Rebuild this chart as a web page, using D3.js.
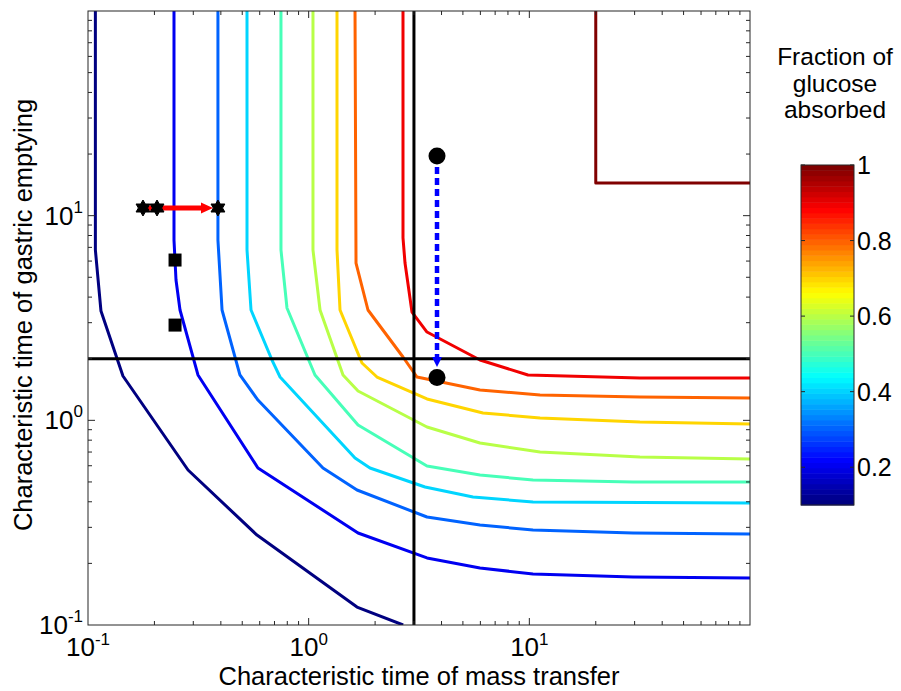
<!DOCTYPE html>
<html>
<head>
<meta charset="utf-8">
<script src="https://cdn.jsdelivr.net/npm/d3@7"></script>
<style>
body { margin: 0; background: #fff; }
text { font-family: "Liberation Sans", Arial, sans-serif; fill: #000; }
</style>
</head>
<body>
<svg id="main-svg" width="901" height="691"></svg>
<script>
// contour levels of the fraction of glucose absorbed
let levels = [0.1, 0.2, 0.3, 0.4, 0.5, 0.6, 0.7, 0.8, 0.9, 1.0];

// contour lines, points are [time of mass transfer, time of gastric emptying]
let line01 = [[0.108,100],[0.108,6.8],[0.1145,3.42],[0.144,1.647],[0.284,0.572],[0.583,0.275],[1.656,0.1224],[2.68,0.1]];
let line02 = [[0.2453,100],[0.2453,7.6],[0.2505,4.85],[0.2612,3.46],[0.315,1.666],[0.589,0.585],[1.674,0.2816],[3.437,0.2126],[5.976,0.19],[10.39,0.1775],[29.5,0.1716],[100,0.1697]];
let line03 = [[0.388,100],[0.388,7.6],[0.405,3.46],[0.488,1.666],[0.589,1.257],[1.161,0.585],[1.656,0.4566],[3.437,0.337],[5.976,0.308],[10.39,0.2912],[29.5,0.2816],[100,0.2783]];
let line04 = [[0.5255,100],[0.5255,6.8],[0.548,3.46],[0.682,1.971],[0.742,1.628],[1.622,0.655],[1.896,0.585],[3.367,0.4725],[5.555,0.422],[10.39,0.399],[100,0.3946]];
let line05 = [[0.749,100],[0.749,6.8],[0.7975,3.54],[1.068,1.666],[1.674,0.949],[3.437,0.598],[5.976,0.5406],[10.39,0.511],[29.5,0.4996],[100,0.4996]];
let line06 = [[1.046,100],[1.046,6.8],[1.126,3.46],[1.431,1.666],[1.674,1.391],[3.437,0.928],[5.976,0.775],[11.18,0.7003],[31.7,0.662],[100,0.647]];
let line07 = [[1.344,100],[1.344,6.8],[1.387,3.46],[1.744,1.906],[2.04,1.628],[3.437,1.272],[6.166,1.086],[11.18,1.027],[31.7,0.981],[100,0.96]];
let line08 = [[1.622,100],[1.639,5.87],[1.857,3.46],[2.676,2.039],[3.097,1.628],[5.976,1.407],[11.18,1.33],[31.7,1.3],[100,1.285]];
let line09 = [[2.676,100],[2.676,7.78],[2.733,5.87],[2.939,3.38],[3.437,2.7],[5.976,1.971],[9.86,1.666],[31.7,1.61],[100,1.61]];
let line10 = [[20,100],[20,14.44],[100,14.44]];
let contourLines = [line01, line02, line03, line04, line05, line06, line07, line08, line09, line10];

// reference lines
let refX = 3;
let refY = 2;

// markers
let stars = [[0.1775,10.9],[0.2055,10.9],[0.388,10.9]];
let squares = [[0.248,6.07],[0.248,2.92]];
let circles = [[3.816,19.56],[3.816,1.62]];
let redArrow = [[0.1775,10.9],[0.3685,10.9]];     // start, tip
let blueArrow = [[3.816,19.56],[3.816,1.822]];    // start, tip

// ticks
let xTicks = [0.1, 1, 10];
let yTicks = [0.1, 1, 10];
let xExp = ["-1", "0", "1"];
let yExp = ["-1", "0", "1"];
let cbDomain = [0.1, 1];
let cbTicks = [0.2, 0.4, 0.6, 0.8, 1];
let cbTickLabels = ["0.2", "0.4", "0.6", "0.8", "1"];
let cbTitle = ["Fraction of", "glucose", "absorbed"];

let svg = d3.select("#main-svg");

let pLeft = 88, pRight = 750, pTop = 11, pBottom = 625;

let x = d3.scaleLog().domain([0.1, 100]).range([pLeft, pRight]);
let y = d3.scaleLog().domain([0.1, 100]).range([pBottom, pTop]);

// matlab jet colormap
function jet(t) {
    let c = v => Math.max(0, Math.min(1, v));
    let r = c(Math.min(4 * t - 1.5, -4 * t + 4.5));
    let g = c(Math.min(4 * t - 0.5, -4 * t + 3.5));
    let b = c(Math.min(4 * t + 0.5, -4 * t + 2.5));
    return d3.rgb(r * 255, g * 255, b * 255).toString();
}
let norm = d3.scaleLinear().domain(cbDomain).range([0, 1]);

svg.append("clipPath").attr("id", "plot-clip")
    .append("rect").attr("x", pLeft).attr("y", pTop)
    .attr("width", pRight - pLeft).attr("height", pBottom - pTop);

let PlotLayer = svg.append("g").attr("clip-path", "url(#plot-clip)");
let AxisLayer = svg.append("g");

let line = d3.line().x(d => x(d[0])).y(d => y(d[1]));

// contour lines
PlotLayer.selectAll(".contour")
    .data(contourLines)
    .enter().append("path")
    .attr("class", "contour")
    .attr("d", line)
    .attr("fill", "none")
    .attr("stroke", (d, i) => jet(norm(levels[i])))
    .attr("stroke-width", 3)
    .attr("stroke-linejoin", "round");

// black reference lines
PlotLayer.append("line")
    .attr("x1", x(refX)).attr("x2", x(refX))
    .attr("y1", pTop).attr("y2", pBottom)
    .attr("stroke", "#000").attr("stroke-width", 3);
PlotLayer.append("line")
    .attr("x1", pLeft).attr("x2", pRight)
    .attr("y1", y(refY)).attr("y2", y(refY))
    .attr("stroke", "#000").attr("stroke-width", 3);

// blue dashed arrow
let bx = x(blueArrow[0][0]), by0 = y(blueArrow[0][1]), by1 = y(blueArrow[1][1]);
PlotLayer.append("line")
    .attr("x1", bx).attr("x2", bx)
    .attr("y1", by0).attr("y2", by1 - 8)
    .attr("stroke", "#0000ff").attr("stroke-width", 4.5)
    .attr("stroke-dasharray", "7,4");
PlotLayer.append("path")
    .attr("d", "M" + (bx - 5) + "," + (by1 - 10) + "L" + (bx + 5) + "," + (by1 - 10) + "L" + bx + "," + by1 + "Z")
    .attr("fill", "#0000ff");

// circles
PlotLayer.selectAll(".circ")
    .data(circles)
    .enter().append("circle")
    .attr("class", "circ")
    .attr("cx", d => x(d[0])).attr("cy", d => y(d[1]))
    .attr("r", 8.5)
    .attr("fill", "#000");

// squares
PlotLayer.selectAll(".sq")
    .data(squares)
    .enter().append("rect")
    .attr("class", "sq")
    .attr("x", d => x(d[0]) - 6.5).attr("y", d => y(d[1]) - 6.5)
    .attr("width", 13).attr("height", 13)
    .attr("fill", "#000");

// red arrow
let rx0 = x(redArrow[0][0]), rx1 = x(redArrow[1][0]), ry = y(redArrow[0][1]);
PlotLayer.append("line")
    .attr("x1", rx0).attr("x2", rx1 - 10)
    .attr("y1", ry).attr("y2", ry)
    .attr("stroke", "#ff0000").attr("stroke-width", 5);
PlotLayer.append("path")
    .attr("d", "M" + (rx1 - 12) + "," + (ry - 5.5) + "L" + rx1 + "," + ry + "L" + (rx1 - 12) + "," + (ry + 5.5) + "Z")
    .attr("fill", "#ff0000");

// hexagram stars
function hexagram(R) {
    let pts = [];
    let r = R / Math.sqrt(3);
    for (let k = 0; k < 12; k++) {
        let a = -Math.PI / 2 + k * Math.PI / 6;
        let rr = k % 2 == 0 ? R : r;
        pts.push([rr * Math.cos(a), rr * Math.sin(a)]);
    }
    return "M" + pts.map(p => p.join(",")).join("L") + "Z";
}
PlotLayer.selectAll(".star")
    .data(stars)
    .enter().append("path")
    .attr("class", "star")
    .attr("transform", d => "translate(" + x(d[0]) + "," + y(d[1]) + ")")
    .attr("d", hexagram(8))
    .attr("fill", "#000")
    .attr("stroke", "#000").attr("stroke-width", 1);

// axes box and ticks
let axisColor = "#262626";
AxisLayer.append("rect")
    .attr("x", pLeft).attr("y", pTop)
    .attr("width", pRight - pLeft).attr("height", pBottom - pTop)
    .attr("fill", "none").attr("stroke", axisColor).attr("stroke-width", 1);

function logTicks(decades) {
    let t = [];
    decades.forEach(function (d) {
        for (let k = 1; k <= 9; k++) t.push({ v: k * d, major: k == 1 });
    });
    return t;
}
let xt = logTicks(xTicks).filter(d => d.v > 0.1 && d.v < 100);
let yt = logTicks(yTicks).filter(d => d.v > 0.1 && d.v < 100);

xt.forEach(function (d) {
    let L = d.major ? 7 : 4;
    AxisLayer.append("line").attr("x1", x(d.v)).attr("x2", x(d.v))
        .attr("y1", pBottom).attr("y2", pBottom - L).attr("stroke", axisColor);
    AxisLayer.append("line").attr("x1", x(d.v)).attr("x2", x(d.v))
        .attr("y1", pTop).attr("y2", pTop + L).attr("stroke", axisColor);
});
yt.forEach(function (d) {
    let L = d.major ? 7 : 4;
    AxisLayer.append("line").attr("y1", y(d.v)).attr("y2", y(d.v))
        .attr("x1", pLeft).attr("x2", pLeft + L).attr("stroke", axisColor);
    AxisLayer.append("line").attr("y1", y(d.v)).attr("y2", y(d.v))
        .attr("x1", pRight).attr("x2", pRight - L).attr("stroke", axisColor);
});

// tick labels 10^n
function powLabel(g, px, py, exp, anchor, up) {
    let t = g.append("text")
        .attr("x", px).attr("y", py)
        .attr("text-anchor", anchor)
        .style("font-size", "26px");
    t.append("tspan").text("10");
    t.append("tspan").attr("dy", -up).style("font-size", "17px").text(exp);
}
xTicks.forEach((v, i) => powLabel(AxisLayer, x(v), 656, xExp[i], "middle", 11));
yTicks.forEach((v, i) => powLabel(AxisLayer, 83, y(v) + 9, yExp[i], "end", 12));

// axis titles
AxisLayer.append("text")
    .attr("x", (pLeft + pRight) / 2).attr("y", 685)
    .attr("text-anchor", "middle")
    .style("font-size", "25.5px")
    .text("Characteristic time of mass transfer");
AxisLayer.append("text")
    .attr("transform", "translate(32," + 315 + ") rotate(-90)")
    .attr("text-anchor", "middle")
    .style("font-size", "25.5px")
    .text("Characteristic time of gastric emptying");

// colorbar
let cbLeft = 801, cbWidth = 53, cbTop = 165, cbBottom = 505;
let cb = d3.scaleLinear().domain(cbDomain).range([cbBottom, cbTop]);
let nBands = 64;
let bands = d3.range(nBands);
let bandH = (cbBottom - cbTop) / nBands;
let CBLayer = svg.append("g");
CBLayer.selectAll(".band")
    .data(bands)
    .enter().append("rect")
    .attr("x", cbLeft)
    .attr("y", d => cbBottom - (d + 1) * bandH)
    .attr("width", cbWidth)
    .attr("height", bandH + 0.5)
    .attr("fill", d => jet(d / (nBands - 1)));
CBLayer.append("rect")
    .attr("x", cbLeft).attr("y", cbTop)
    .attr("width", cbWidth).attr("height", cbBottom - cbTop)
    .attr("fill", "none").attr("stroke", axisColor).attr("stroke-width", 1);
cbTicks.forEach(function (v, i) {
    CBLayer.append("line").attr("x1", cbLeft).attr("x2", cbLeft + 4)
        .attr("y1", cb(v)).attr("y2", cb(v)).attr("stroke", axisColor);
    CBLayer.append("line").attr("x1", cbLeft + cbWidth).attr("x2", cbLeft + cbWidth - 4)
        .attr("y1", cb(v)).attr("y2", cb(v)).attr("stroke", axisColor);
    CBLayer.append("text")
        .attr("x", cbLeft + cbWidth + 3).attr("y", cb(v) + 9)
        .style("font-size", "25px")
        .text(cbTickLabels[i]);
});
CBLayer.selectAll(".cbtitle")
    .data(cbTitle)
    .enter().append("text")
    .attr("class", "cbtitle")
    .attr("x", 835)
    .attr("y", (d, i) => 65 + i * 26.5)
    .attr("text-anchor", "middle")
    .style("font-size", "24.5px")
    .text(d => d);
</script>
</body>
</html>
